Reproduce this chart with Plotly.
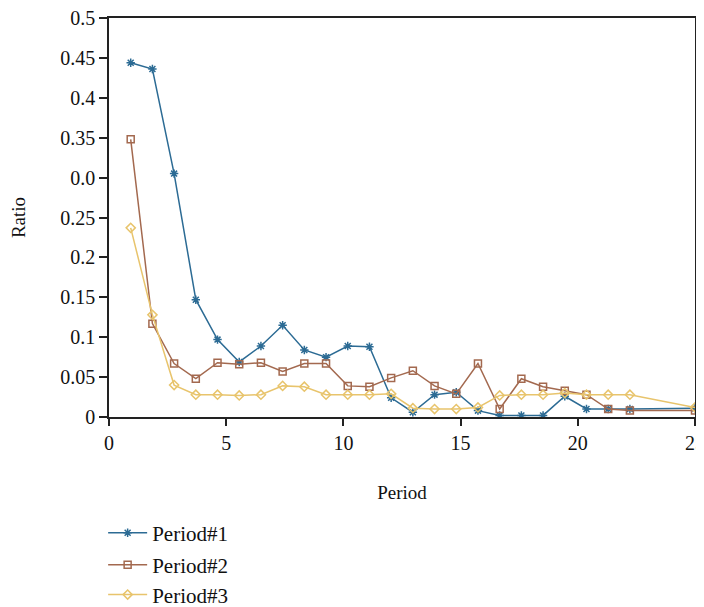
import plotly.graph_objects as go

# x positions (period index scaled)
x_idx = list(range(1, 25)) + [27]
period = [i * 25 / 27 for i in x_idx]

period1 = [0.444, 0.436, 0.305, 0.147, 0.097, 0.069, 0.089, 0.115, 0.084, 0.075,
           0.089, 0.088, 0.024, 0.006, 0.028, 0.031, 0.008, 0.002, 0.002, 0.002,
           0.026, 0.010, 0.010, 0.010, 0.011]
period2 = [0.348, 0.117, 0.067, 0.048, 0.068, 0.066, 0.068, 0.057, 0.067, 0.067,
           0.039, 0.038, 0.049, 0.058, 0.039, 0.029, 0.067, 0.010, 0.048, 0.038,
           0.033, 0.028, 0.010, 0.008, 0.008]
period3 = [0.237, 0.128, 0.040, 0.028, 0.028, 0.027, 0.028, 0.039, 0.038, 0.028,
           0.028, 0.028, 0.029, 0.011, 0.010, 0.010, 0.012, 0.027, 0.028, 0.028,
           0.030, 0.028, 0.028, 0.028, 0.012]

y_tickvals = [0, 0.05, 0.1, 0.15, 0.2, 0.25, 0.3, 0.35, 0.4, 0.45, 0.5]
y_ticktext = ["0", "0.05", "0.1", "0.15", "0.2", "0.25", "0.0", "0.35", "0.4", "0.45", "0.5"]
x_tickvals = [0, 5, 10, 15, 20, 25]

names = ["Period#1", "Period#2", "Period#3"]
colors = ["#2c6b94", "#a3694f", "#e8c46c"]
symbols = ["asterisk-open", "square-open", "diamond-open"]
series = [period1, period2, period3]
legend_ids = ["legend", "legend2", "legend3"]
legend_y = [-0.291, -0.371, -0.446]

FONT = "Liberation Serif"
TICK_FS = 20
TITLE_FS = 19
LEG_FS = 21

fig = go.Figure()
for name, ys, c, s, lg in zip(names, series, colors, symbols, legend_ids):
    fig.add_trace(go.Scatter(
        x=period, y=ys, name=name, mode="lines+markers", legend=lg,
        line=dict(color=c, width=1.5),
        marker=dict(symbol=s, size=7, color=c, line=dict(color=c, width=1.5)),
    ))

leg_common = dict(x=-0.01, xanchor="left", yanchor="middle", orientation="v",
                  font=dict(family=FONT, size=LEG_FS, color="#111"),
                  bgcolor="rgba(0,0,0,0)", itemwidth=39)

fig.update_layout(
    width=696, height=599,
    margin=dict(l=101, r=9, t=10, b=190, autoexpand=False),
    paper_bgcolor="white", plot_bgcolor="white",
    font=dict(family=FONT, size=TICK_FS, color="#111"),
    showlegend=True,
    legend=dict(y=legend_y[0], **leg_common),
    legend2=dict(y=legend_y[1], **leg_common),
    legend3=dict(y=legend_y[2], **leg_common),
)
fig.update_xaxes(
    range=[0, 25], tickvals=x_tickvals, showgrid=False, zeroline=False,
    showline=True, linecolor="#222", linewidth=1.5, mirror=True, automargin=False,
    ticks="outside", ticklen=7, tickcolor="#222", tickwidth=1.5,
    tickfont=dict(family=FONT, size=TICK_FS), ticklabeloverflow="allow",
    title=dict(text="Period", font=dict(family=FONT, size=TITLE_FS), standoff=33),
)
fig.update_yaxes(
    range=[0, 0.5], tickvals=y_tickvals, ticktext=y_ticktext, showgrid=False,
    zeroline=False, showline=True, linecolor="#222", linewidth=1.5, mirror=True,
    automargin=False,
    ticks="outside", ticklen=8, tickcolor="#222", tickwidth=1.5,
    tickfont=dict(family=FONT, size=TICK_FS), ticklabeloverflow="allow",
    title=dict(text="Ratio", font=dict(family=FONT, size=TITLE_FS), standoff=30),
)

fig.write_html("out.html")
